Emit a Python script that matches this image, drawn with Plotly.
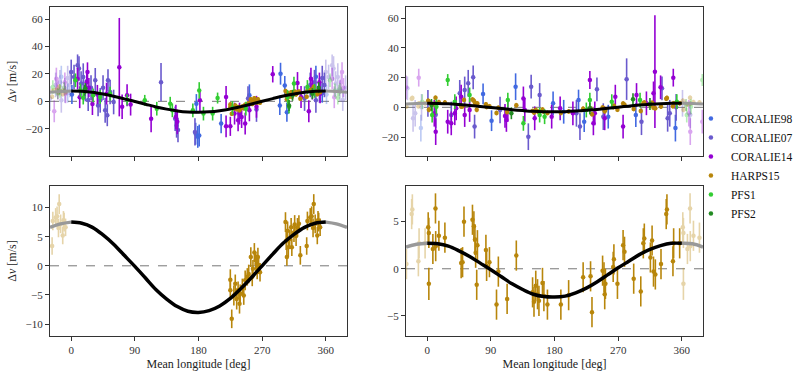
import plotly.graph_objects as go

INSTRUMENTS = ["CORALIE98", "CORALIE07", "CORALIE14", "HARPS15", "PFS1", "PFS2"]
COLORS = {"CORALIE98": "#4169E1", "CORALIE07": "#6A5ACD", "CORALIE14": "#9400D3",
          "HARPS15": "#B8860B", "PFS1": "#32CD32", "PFS2": "#228B22"}

# ---------------- data: (mean longitude [deg], dv [m/s], error [m/s]) ----------------
# Planet b phase (left column)
b_coralie98 = [(1, 5, 7), (177, -1.7, 7), (176, -23.7, 8), (179, -26, 8), (181, -25, 8),
               (212, -16.3, 7), (252, 4.4, 8), (296, 20.2, 8), (295, -3, 7), (302, 11.5, 7),
               (305, -8, 7), (346, 18, 8), (355, 6, 7)]
b_coralie07 = [(0, 21.5, 9), (4, 17.8, 9), (9, 26.3, 8), (11, 24, 9), (14, 13, 9), (17, 17.8, 10),
               (20, 8, 8), (24, 1, 8), (28, 10, 9), (34, 15.4, 9), (38, -3, 8), (41, 0.7, 9),
               (45, 10, 9), (48, -6.6, 9), (51, -10.2, 8), (52, 15.4, 8), (55, 6.8, 9), (60, -0.5, 9),
               (127, 14, 14), (147, -12.7, 9), (149, -17.6, 9), (151, -21, 9), (175, -22.4, 10),
               (250, 2, 9), (262, -6, 9), (330, 2, 9), (338, 12, 9), (344, 14, 9), (346, 0.7, 9),
               (351, 8, 9), (355, 17, 9), (358, 12, 9)]
b_coralie14 = [(9, 16.6, 8), (12, 3, 8), (22, 14, 7), (23, 21.5, 7), (25, 10, 7), (30, -2, 8),
               (37, 5, 7), (50, 5.6, 8), (68, 25, 36), (72, -4, 9), (79, 4.4, 8), (84, -2.4, 8),
               (113, -12.7, 10), (148, -11.5, 9), (150, -15, 9), (182, 0.7, 8), (219, 3.2, 8),
               (219, -18.3, 8), (225, -18.3, 7), (231, -9, 8), (236, -13.9, 8), (238, -9, 8),
               (241, -11.5, 8), (246, -16.3, 8), (252, -6.6, 8), (262, -4, 8), (285, 19.8, 6),
               (320, 13.4, 8), (325, 3.2, 8), (336, -7.3, 8), (339, 16.6, 8), (341, 9.3, 8),
               (351, 14, 7), (352, 5.6, 7)]
b_harps15 = [(225, -2.4, 1.8), (225, -4.2, 1.6), (227, -9.1, 1.6), (230, -5.1, 1.7), (232, -3.1, 1.6),
             (234, -5.7, 1.8), (236, -4.2, 1.5), (238, -6.5, 1.7), (239, -4.8, 1.6), (242, -3.7, 1.5),
             (244, -5.1, 1.6), (246, -2.5, 1.7), (249, -1.9, 1.5), (251, -1.4, 1.6), (254, 1.5, 1.7),
             (256, -1.9, 1.6), (257, -0.5, 1.5), (259, 2.3, 1.6), (261, 0.9, 1.5), (262, 0.3, 1.6),
             (263, -0.8, 1.5), (264, 1.5, 1.6), (265, 0.1, 1.5), (267, -1.1, 1.6),
             (303, 7.5, 1.7), (304, 4.3, 1.6), (305, 1.5, 1.5), (306, 6.0, 1.6), (307, 3.2, 1.7),
             (309, 4.6, 1.6), (311, 6.6, 1.6), (312, 3.2, 1.5), (315, 5.7, 1.6), (316, 7.1, 1.6),
             (318, 5.1, 1.7), (320, 6.6, 1.6), (322, 7.2, 1.5), (324, 1.8, 1.6), (333, 3.4, 1.5),
             (334, 7.7, 1.6), (338, 8.3, 1.6), (340, 8.5, 1.7), (342, 6.5, 1.6), (343, 10.6, 1.7),
             (345, 7.2, 1.6), (348, 5.2, 1.5), (349, 7.8, 1.6), (350, 7.5, 1.6), (352, 6.6, 1.5)]
b_pfs1 = [(6, 15.4, 5), (13, 8, 5), (17, 2.7, 5), (31, 4.4, 5), (41, 3.2, 5), (55, 5.6, 5),
          (79, 1.2, 4), (104, 0.7, 4), (121, -5.4, 5), (140, -1.7, 5), (143, -6.6, 5), (172, -6.6, 5),
          (181, 8, 6), (187, -9, 5), (200, -9, 5), (207, 2.4, 4), (228, -4.9, 5), (247, -5.4, 5),
          (306, 3.2, 5), (308, -4, 5), (315, 13, 5), (334, 10.5, 5), (344, 7.6, 5)]
b_pfs2 = [(19, 8, 4), (20, 9.3, 4), (308, -3, 4), (313, 4.4, 4), (341, 5.6, 4), (350, 10, 4)]

# Planet c phase (right column)
c_coralie98 = [(79, 9, 7), (91, -9, 7), (125, 13.9, 9), (178, 2.7, 8), (193, -3, 8), (214, 4.9, 7),
               (222, -9.7, 7), (256, -6.3, 8), (295, -5.2, 8), (351, -14, 9)]
c_coralie07 = [(1, 2.7, 9), (12, -5, 9), (34, -5.2, 9), (46, 9.4, 9), (53, 11.7, 9), (58, 16.2, 9),
               (65, 20.2, 8), (67, -13, 8), (103, -1.8, 9), (143, -19.8, 9), (147, 13.9, 8),
               (159, 8.3, 8), (211, -4, 9), (216, -13, 9), (240, 12.1, 8), (249, -6.3, 9),
               (282, 19, 14), (303, -9.7, 9), (332, 12.8, 8), (340, -7.4, 9), (343, -4, 9), (352, 0, 9)]
c_coralie14 = [(10, -4, 9), (12, -16.4, 9), (29, -9.7, 8), (34, -10.8, 8), (39, -4, 8), (41, -0.7, 8),
               (48, 7.2, 8), (53, -5.2, 8), (60, -1.8, 8), (110, -5.8, 8), (112, -8.5, 8),
               (114, -1.8, 8), (136, 6, 8), (138, -1.8, 8), (152, -7.4, 8), (176, -6.3, 8),
               (188, -0.7, 8), (206, -4, 8), (230, 18.4, 6), (235, -10.8, 8), (237, -4, 8),
               (251, -7.4, 8), (266, 7.2, 8), (277, -13, 8), (296, 8.3, 8), (310, 2.7, 8),
               (320, 9.4, 8), (322, 24, 38), (330, 13.5, 8), (348, 20, 6)]
c_harps15 = [(2.3, -1.6, 1.7), (1.4, 4.4, 1.6), (2.3, 3.8, 1.6), (11.7, 6.4, 1.6), (8, 2.1, 1.6),
             (12, 2.4, 1.6), (16.5, 3.5, 1.6), (25, 3.3, 1.6), (48, 0.6, 1.6), (50, 0.7, 1.6),
             (52, 5.0, 1.6), (64, 5.2, 1.6), (66, 4.5, 1.6), (67.5, 3.1, 1.6), (68.5, 1.7, 1.6),
             (70, -1.7, 1.6), (71, 2.5, 1.6), (83, 2.0, 1.6), (84, 0.3, 1.6), (88, 0.7, 1.6),
             (98, -3.8, 1.6), (100.6, -0.3, 1.6), (113, -3.2, 1.6), (126, 1.4, 1.6), (149, -2.5, 1.6),
             (151, -3.5, 1.6), (153.5, -1.8, 1.6), (156, -2.7, 1.6), (158, -3.4, 1.6), (163, -1.5, 1.6),
             (165, -2.9, 1.6), (170, -3.8, 1.6), (189, -3.8, 1.6), (200, -2.8, 1.6), (220.5, -0.9, 1.6),
             (231, -0.8, 1.6), (233, -4.6, 1.6), (248, -0.2, 1.6), (250, -0.9, 1.6), (251, -2.7, 1.6),
             (252, -1.6, 1.6), (263, 0.2, 1.6), (264, 1.0, 1.6), (269, -1.6, 1.6), (277, 2.5, 1.6),
             (279, 1.8, 1.6), (292, -1.05, 1.6), (302, -2.4, 1.6), (305.6, 2.7, 1.6), (307, 3.2, 1.6),
             (315.6, 1.2, 1.6), (318, 3.0, 1.6), (320, -0.3, 1.6), (322.6, -0.6, 1.6), (330.6, 0.5, 1.6),
             (338, 5.8, 1.6), (339, 6.3, 1.6), (347.5, 0.8, 1.6), (348.5, 2.7, 1.6), (357, 2.7, 1.6)]
c_pfs1 = [(7, -5.2, 5), (13, 0.4, 5), (29, 18.4, 4), (39, 3.8, 5), (60, 8.3, 5), (114, 4.9, 5),
          (136, -10.8, 5), (159, -5.2, 5), (166, -6.3, 5), (225, -1.8, 5), (230, 4.9, 5),
          (261, 3.8, 5), (301, 4.9, 5), (353, 3.8, 5)]
c_pfs2 = [(6, 1.6, 4), (119, -4, 4), (230, -0.7, 4), (291, 5.4, 4), (315, 2.2, 4)]

# Model curves
curve_x = [-30, -15, 0, 15, 30, 45, 60, 75, 90, 105, 120, 135, 150, 165, 180, 195, 210,
           225, 240, 255, 270, 285, 300, 315, 330, 345, 360, 375, 390]
curve_b = [6.6, 7.2, 7.5, 7.3, 6.6, 5.3, 3.7, 1.8, -0.1, -2.1, -4.1, -5.7, -7.0, -7.8, -8.0,
           -7.7, -6.9, -5.6, -3.9, -2.0, 0.0, 2.0, 3.9, 5.4, 6.6, 7.3, 7.5, 7.2, 6.6]
curve_c = [2.3, 2.6, 2.7, 2.65, 2.4, 1.9, 1.3, 0.6, -0.1, -0.85, -1.6, -2.2, -2.7, -2.95, -3.0,
           -2.9, -2.55, -2.05, -1.4, -0.65, 0.1, 0.8, 1.5, 2.05, 2.45, 2.7, 2.7, 2.65, 2.3]

top_b = dict(zip(INSTRUMENTS, [b_coralie98, b_coralie07, b_coralie14, b_harps15, b_pfs1, b_pfs2]))
top_c = dict(zip(INSTRUMENTS, [c_coralie98, c_coralie07, c_coralie14, c_harps15, c_pfs1, c_pfs2]))

fig = go.Figure()


def add_points(pts, name, xa, ya, showlegend):
    color = COLORS[name]
    wx, wy, we = [], [], []
    for x, y, e in pts:
        if x >= 330:
            wx.append(x - 360); wy.append(y); we.append(e)
        if x < 30:
            wx.append(x + 360); wy.append(y); we.append(e)
    err = dict(type="data", thickness=1.6, width=0, color=color)
    if wx:
        fig.add_trace(go.Scatter(x=wx, y=wy, mode="markers", opacity=0.35,
                                 marker=dict(color=color, size=4.5),
                                 error_y=dict(err, array=we), showlegend=False,
                                 legendgroup=name, hoverinfo="skip", xaxis=xa, yaxis=ya))
    fig.add_trace(go.Scatter(x=[p[0] for p in pts], y=[p[1] for p in pts], mode="markers",
                             marker=dict(color=color, size=4.5), name=name, legendgroup=name,
                             error_y=dict(err, array=[p[2] for p in pts]),
                             showlegend=showlegend, xaxis=xa, yaxis=ya))


def add_curve(cy, xa, ya, w):
    left = [(x, y) for x, y in zip(curve_x, cy) if x <= 0]
    mid = [(x, y) for x, y in zip(curve_x, cy) if 0 <= x <= 360]
    right = [(x, y) for x, y in zip(curve_x, cy) if x >= 360]
    for seg, col in ((left, "#999999"), (right, "#999999"), (mid, "black")):
        fig.add_trace(go.Scatter(x=[p[0] for p in seg], y=[p[1] for p in seg], mode="lines",
                                 line=dict(color=col, width=w, shape="spline"),
                                 showlegend=False, hoverinfo="skip", xaxis=xa, yaxis=ya))


for name in INSTRUMENTS:
    add_points(top_b[name], name, "x", "y", True)
add_curve(curve_b, "x", "y", 3)
for name in INSTRUMENTS:
    add_points(top_c[name], name, "x2", "y2", False)
add_curve(curve_c, "x2", "y2", 3)
add_points(b_harps15, "HARPS15", "x3", "y3", False)
add_curve(curve_b, "x3", "y3", 3.5)
add_points(c_harps15, "HARPS15", "x4", "y4", False)
add_curve(curve_c, "x4", "y4", 3.5)

for xr, yr in (("x", "y"), ("x2", "y2"), ("x3", "y3"), ("x4", "y4")):
    fig.add_shape(type="line", xref=xr + " domain", yref=yr, x0=0, x1=1, y0=0, y1=0,
                  line=dict(color="#777777", width=1, dash="dash"), layer="below")

W, H = 810, 376
def dx(a, b):
    return [a / W, b / W]
def dy(top, bot):
    return [1 - bot / H, 1 - top / H]

axis_common = dict(showline=True, mirror=True, linecolor="#333333", linewidth=1,
                   ticks="outside", ticklen=4, tickwidth=1, tickcolor="#333333",
                   showgrid=False, zeroline=False, automargin=False,
                   tickfont=dict(size=11, color="#333333"))
xcommon = dict(axis_common, range=[-30, 390], tickvals=[0, 90, 180, 270, 360])

fig.update_layout(
    width=W, height=H, margin=dict(l=0, r=0, t=0, b=0, autoexpand=False),
    plot_bgcolor="white", paper_bgcolor="white",
    font=dict(family="Liberation Serif", size=11, color="#222222"),
    xaxis=dict(xcommon, domain=dx(50, 347), anchor="y", showticklabels=False),
    xaxis2=dict(xcommon, domain=dx(406, 703), anchor="y2", showticklabels=False),
    xaxis3=dict(xcommon, domain=dx(50, 347), anchor="y3",
                title=dict(text="Mean longitude [deg]", standoff=4, font=dict(size=12))),
    xaxis4=dict(xcommon, domain=dx(406, 703), anchor="y4",
                title=dict(text="Mean longitude [deg]", standoff=4, font=dict(size=12))),
    yaxis=dict(axis_common, domain=dy(7, 156), anchor="x", range=[-40, 69],
               tickvals=[-20, 0, 20, 40, 60],
               title=dict(text="Δ<i>v</i> [m/s]", standoff=6, font=dict(size=12))),
    yaxis2=dict(axis_common, domain=dy(7, 156), anchor="x2", range=[-32.8, 67.6],
                tickvals=[-20, 0, 20, 40, 60]),
    yaxis3=dict(axis_common, domain=dy(186, 336), anchor="x3", range=[-12.05, 13.7],
                tickvals=[-10, -5, 0, 5, 10],
                title=dict(text="Δ<i>v</i> [m/s]", standoff=6, font=dict(size=12))),
    yaxis4=dict(axis_common, domain=dy(186, 336), anchor="x4", range=[-7.13, 8.78],
                tickvals=[-5, 0, 5]),
    legend=dict(x=0.853, y=1 - 166 / H, xanchor="left", yanchor="middle",
                bgcolor="rgba(0,0,0,0)", font=dict(size=11.5, color="#111111"), tracegroupgap=0),
    showlegend=True,
)

fig.write_html("out.html", config={"displayModeBar": False},
               post_script="document.body.style.margin='0px';document.body.style.overflow='hidden';")
